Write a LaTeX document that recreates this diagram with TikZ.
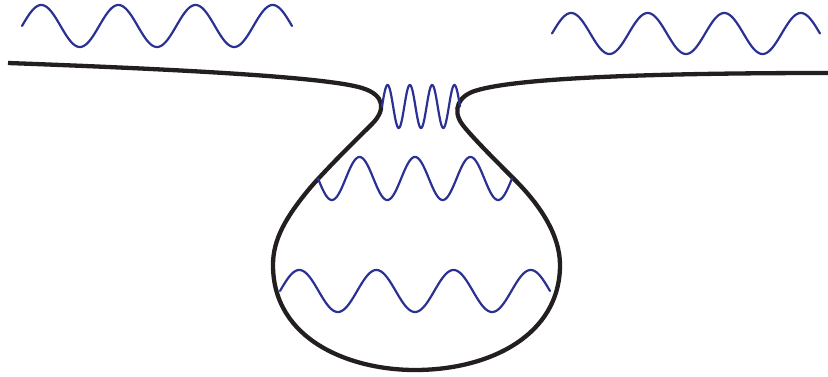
\documentclass[tikz,border=0pt]{standalone}
\definecolor{wavecol}{RGB}{43,49,146}
\definecolor{curvecol}{RGB}{35,31,32}
\begin{document}
\begin{tikzpicture}[x=1pt,y=-1pt,
  membrane/.style={draw=curvecol,line width=4.3pt,line join=round},
  wave/.style={draw=wavecol,line width=2.2pt,line cap=round,line join=round}]
\useasboundingbox (0,0) rectangle (828,377);
% black curve
\draw[membrane] (8,63) .. controls (200,70) and (330,78) .. (362,88)
  .. controls (385,95) and (386,110) .. (372,124)
  .. controls (358,138) and (330,165) .. (310,188)
  .. controls (285,218) and (273,240) .. (273,265)
  .. controls (273,340) and (350,370) .. (415,370)
  .. controls (490,370) and (560,335) .. (560,265)
  .. controls (560,235) and (540,205) .. (515,180)
  .. controls (495,160) and (470,135) .. (462,124)
  .. controls (452,110) and (458,95) .. (478,90)
  .. controls (520,78) and (650,73) .. (828,73);
% waves
\draw[wave] plot[domain=22:292,samples=240] (\x,{26-21*sin(4.6668*(\x-22))});
\draw[wave] plot[domain=552:820,samples=240] (\x,{33.5-20.5*sin(4.7016*(\x-552))});
\draw[wave] plot[domain=382:460,samples=200] (\x,{106.5-21.5*sin(16.151*(\x-382))});
\draw[wave] plot[domain=318:512,samples=240] (\x,{178.5+21.5*sin(6.4947*(\x-318))});
\draw[wave] plot[domain=280:550,samples=240] (\x,{291-21*sin(4.6668*(\x-280))});
\end{tikzpicture}
\end{document}
